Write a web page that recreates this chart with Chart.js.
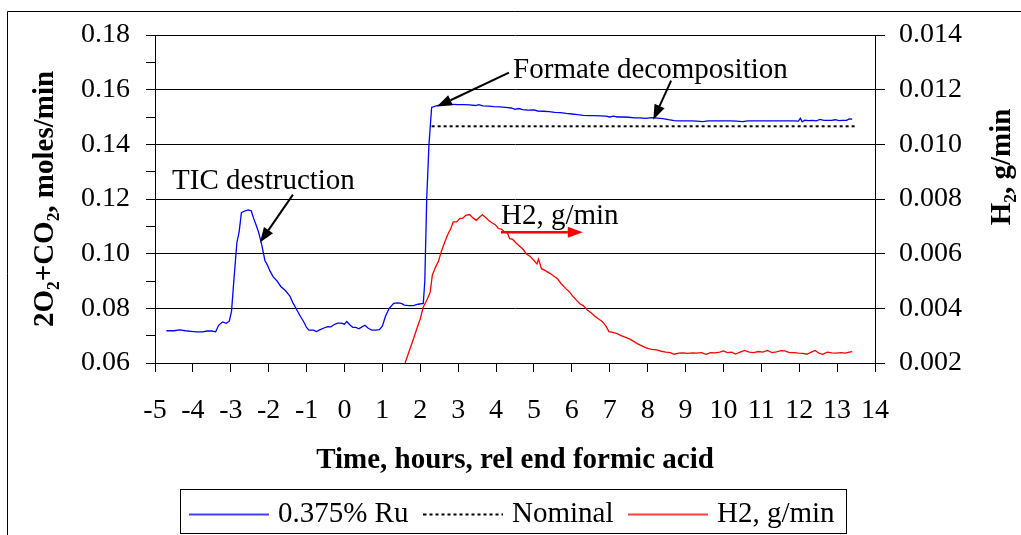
<!DOCTYPE html>
<html>
<head>
<meta charset="utf-8">
<script src="https://cdn.jsdelivr.net/npm/chart.js@4.4.0/dist/chart.umd.min.js"></script>
<style>
  html, body { margin: 0; padding: 0; background: #fff; }
  canvas { display: block; }
</style>
</head>
<body>
<canvas id="chart" width="1021" height="535"></canvas>
<script>
// time axis, hours relative to end of formic acid feed
const hourRange = { min: -5, max: 14, step: 1 };
const flowRange = { min: 0.06, max: 0.18, step: 0.01 };   // left axis, moles/min
const h2Range = { min: 0.002, max: 0.014, step: 0.002 };  // right axis, g/min

const seriesNames = ['0.375% Ru', 'Nominal', 'H2, g/min'];

// 2O2+CO2 off-gas, 0.375% Ru run
const ruHours = [
  -4.70, -4.50, -4.35, -4.20, -4.05, -3.90, -3.75, -3.62, -3.50, -3.40,
  -3.32, -3.22, -3.12, -3.04, -2.98, -2.92, -2.84, -2.78, -2.72, -2.62,
  -2.54, -2.46, -2.40, -2.32, -2.26, -2.18, -2.10, -2.04, -1.96, -1.88,
  -1.78, -1.68, -1.56, -1.44, -1.36, -1.26, -1.16, -1.08, -1.00, -0.94,
  -0.82, -0.74, -0.64, -0.54, -0.44, -0.36, -0.28, -0.18, -0.08, 0.00,
  0.06, 0.14, 0.22, 0.30, 0.38, 0.46, 0.54, 0.62, 0.72, 0.82,
  0.92, 1.00, 1.08, 1.18, 1.30, 1.40, 1.50, 1.58, 1.70, 1.82,
  1.94, 2.08, 2.12, 2.17, 2.23, 2.30, 2.40, 2.55, 2.70, 2.85,
  3.00, 3.15, 3.30, 3.45, 3.55, 3.65, 3.80, 3.95, 4.10, 4.25,
  4.40, 4.50, 4.60, 4.70, 4.85, 5.00, 5.10, 5.25, 5.40, 5.55,
  5.70, 5.85, 6.00, 6.15, 6.30, 6.45, 6.60, 6.75, 6.90, 7.00,
  7.10, 7.20, 7.35, 7.50, 7.65, 7.80, 7.95, 8.10, 8.25, 8.40,
  8.55, 8.70, 8.85, 9.00, 9.15, 9.30, 9.45, 9.60, 9.75, 9.90,
  10.05, 10.20, 10.35, 10.50, 10.65, 10.80, 10.95, 11.10, 11.25, 11.40,
  11.55, 11.70, 11.85, 11.98, 12.03, 12.08, 12.15, 12.25, 12.35, 12.45,
  12.55, 12.65, 12.75, 12.85, 12.95, 13.05, 13.15, 13.25, 13.32, 13.40
];
const ruFlow = [
  0.0718, 0.0718, 0.0721, 0.0718, 0.0716, 0.0714, 0.0714, 0.0717, 0.0717, 0.0714,
  0.0738, 0.0750, 0.0745, 0.0753, 0.0790, 0.0900, 0.1040, 0.1080, 0.1150, 0.1157,
  0.1160, 0.1157, 0.1130, 0.1100, 0.1075, 0.1030, 0.0975, 0.0960, 0.0935, 0.0915,
  0.0900, 0.0880, 0.0865, 0.0845, 0.0820, 0.0795, 0.0770, 0.0752, 0.0730, 0.0720,
  0.0720, 0.0715, 0.0722, 0.0728, 0.0733, 0.0732, 0.0740, 0.0746, 0.0746, 0.0742,
  0.0752, 0.0740, 0.0730, 0.0730, 0.0725, 0.0732, 0.0738, 0.0728, 0.0720, 0.0720,
  0.0722, 0.0735, 0.0770, 0.0800, 0.0818, 0.0820, 0.0818, 0.0812, 0.0810, 0.0810,
  0.0815, 0.0818, 0.0900, 0.1200, 0.1400, 0.1535, 0.1540, 0.1545, 0.1546, 0.1546,
  0.1545, 0.1545, 0.1544, 0.1542, 0.1545, 0.1541, 0.1540, 0.1538, 0.1537, 0.1535,
  0.1533, 0.1528, 0.1531, 0.1527, 0.1525, 0.1526, 0.1522, 0.1521, 0.1520, 0.1517,
  0.1516, 0.1513, 0.1511, 0.1509, 0.1506, 0.1505, 0.1505, 0.1504, 0.1503, 0.1500,
  0.1503, 0.1500, 0.1500, 0.1499, 0.1497, 0.1497, 0.1495, 0.1498, 0.1496, 0.1494,
  0.1490, 0.1487, 0.1486, 0.1486, 0.1486, 0.1485, 0.1483, 0.1486, 0.1486, 0.1486,
  0.1486, 0.1486, 0.1485, 0.1483, 0.1486, 0.1486, 0.1486, 0.1486, 0.1486, 0.1486,
  0.1486, 0.1486, 0.1486, 0.1485, 0.1495, 0.1482, 0.1488, 0.1487, 0.1488, 0.1486,
  0.1491, 0.1488, 0.1488, 0.1488, 0.1490, 0.1487, 0.1488, 0.1488, 0.1493, 0.1492
];

// expected rate for full formate decomposition
const nominalHours = [2.30, 13.50];
const nominalFlow = [0.1466, 0.1466];

// hydrogen generation, right axis
const h2Hours = [
  1.60, 1.70, 1.82, 1.92, 2.00, 2.08, 2.18, 2.26, 2.32, 2.40,
  2.48, 2.56, 2.64, 2.72, 2.80, 2.87, 2.96, 3.04, 3.12, 3.20,
  3.30, 3.40, 3.48, 3.56, 3.64, 3.72, 3.80, 3.90, 3.98, 4.06,
  4.14, 4.22, 4.30, 4.36, 4.44, 4.52, 4.60, 4.70, 4.80, 4.90,
  5.00, 5.08, 5.12, 5.20, 5.30, 5.42, 5.52, 5.62, 5.72, 5.84,
  5.94, 6.02, 6.12, 6.22, 6.30, 6.40, 6.50, 6.60, 6.70, 6.80,
  6.90, 6.98, 7.08, 7.18, 7.30, 7.42, 7.52, 7.62, 7.74, 7.86,
  7.98, 8.10, 8.24, 8.36, 8.48, 8.60, 8.70, 8.82, 8.94, 9.06,
  9.18, 9.30, 9.42, 9.54, 9.66, 9.78, 9.90, 10.00, 10.10, 10.22,
  10.32, 10.44, 10.56, 10.68, 10.80, 10.92, 11.04, 11.16, 11.28, 11.40,
  11.52, 11.62, 11.74, 11.86, 11.98, 12.10, 12.20, 12.32, 12.42, 12.52,
  12.62, 12.74, 12.86, 12.98, 13.10, 13.22, 13.32, 13.40
];
const h2Rate = [
  0.00200, 0.00240, 0.00288, 0.00330, 0.00362, 0.00405, 0.00432, 0.00458, 0.00522, 0.00550,
  0.00572, 0.00610, 0.00640, 0.00668, 0.00690, 0.00716, 0.00716, 0.00728, 0.00730, 0.00740,
  0.00743, 0.00730, 0.00722, 0.00733, 0.00742, 0.00733, 0.00722, 0.00712, 0.00706, 0.00692,
  0.00690, 0.00680, 0.00676, 0.00655, 0.00652, 0.00640, 0.00630, 0.00618, 0.00600, 0.00590,
  0.00575, 0.00562, 0.00580, 0.00545, 0.00538, 0.00528, 0.00518, 0.00508, 0.00490, 0.00472,
  0.00460, 0.00445, 0.00430, 0.00416, 0.00410, 0.00395, 0.00385, 0.00372, 0.00362, 0.00352,
  0.00335, 0.00315, 0.00312, 0.00308, 0.00300, 0.00294, 0.00288, 0.00280, 0.00270, 0.00262,
  0.00254, 0.00250, 0.00248, 0.00243, 0.00240, 0.00238, 0.00232, 0.00236, 0.00237, 0.00235,
  0.00237, 0.00236, 0.00238, 0.00232, 0.00238, 0.00237, 0.00240, 0.00244, 0.00238, 0.00240,
  0.00233, 0.00240, 0.00246, 0.00240, 0.00238, 0.00242, 0.00240, 0.00246, 0.00238, 0.00241,
  0.00245, 0.00244, 0.00238, 0.00238, 0.00236, 0.00235, 0.00232, 0.00240, 0.00246, 0.00236,
  0.00232, 0.00240, 0.00237, 0.00236, 0.00238, 0.00236, 0.00240, 0.00242
];

// callouts, placed in (hours, moles/min)
const notes = [
  { text: 'TIC destruction', x: -4.55, y: 0.1265 },
  { text: 'Formate decomposition', x: 4.45, y: 0.1670 },
  { text: 'H2, g/min', x: 4.13, y: 0.1136 }
];
const arrows = [
  { from: [-1.36, 0.1216], to: [-2.23, 0.1041], color: '#000', width: 2 },
  { from: [4.34, 0.1662], to: [2.44, 0.1538], color: '#000', width: 2 },
  { from: [8.62, 0.1633], to: [8.15, 0.1490], color: '#000', width: 2 },
  { from: [4.13, 0.1078], to: [6.29, 0.1078], color: '#f00', width: 2.5 }
];

const serif = '"Liberation Serif", "Times New Roman", serif';
Chart.defaults.font.family = serif;
Chart.defaults.color = '#000';

const pts = (xs, ys) => xs.map((x, i) => ({ x: x, y: ys[i] }));
const isMajor = v => Math.round(v * 100) % 2 === 0;

// legend samples: an 80px stroke so the dotted one keeps its dashes
function lineSample(color, width, dash) {
  const c = document.createElement('canvas');
  c.width = 80;
  c.height = 6;
  const g = c.getContext('2d');
  g.strokeStyle = color;
  g.lineWidth = width;
  g.setLineDash(dash);
  g.beginPath();
  g.moveTo(0, 3);
  g.lineTo(80, 3);
  g.stroke();
  return c;
}

function drawArrow(ctx, x1, y1, x2, y2, color, width) {
  const ang = Math.atan2(y2 - y1, x2 - x1);
  const head = 15, half = 5.5;
  const bx = x2 - head * Math.cos(ang), by = y2 - head * Math.sin(ang);
  ctx.strokeStyle = color;
  ctx.fillStyle = color;
  ctx.lineWidth = width;
  ctx.beginPath();
  ctx.moveTo(x1, y1);
  ctx.lineTo(bx, by);
  ctx.stroke();
  ctx.beginPath();
  ctx.moveTo(x2, y2);
  ctx.lineTo(bx + half * Math.sin(ang), by - half * Math.cos(ang));
  ctx.lineTo(bx - half * Math.sin(ang), by + half * Math.cos(ang));
  ctx.closePath();
  ctx.fill();
}

const decorations = {
  id: 'decorations',
  afterDraw(chart) {
    const { ctx, scales: { x, y } } = chart;
    ctx.save();

    // page frame (open to the right and bottom)
    ctx.strokeStyle = '#000';
    ctx.lineWidth = 1;
    ctx.beginPath();
    ctx.moveTo(7.5, chart.height);
    ctx.lineTo(7.5, 11.5);
    ctx.lineTo(chart.width, 11.5);
    ctx.stroke();

    // box around the legend
    const boxes = chart.legend.legendHitBoxes;
    const first = boxes[0], last = boxes[boxes.length - 1];
    const cy = first.top + first.height / 2;
    const left = Math.round(first.left - 15) + 0.5;
    const right = Math.round(last.left + last.width + 11) + 0.5;
    ctx.strokeRect(left, Math.round(cy - 26) + 0.5, right - left, 44);

    // callout texts and arrows
    ctx.fillStyle = '#000';
    ctx.font = '29px ' + serif;
    ctx.textAlign = 'left';
    ctx.textBaseline = 'middle';
    notes.forEach(n => ctx.fillText(n.text, x.getPixelForValue(n.x), y.getPixelForValue(n.y)));
    arrows.forEach(a => drawArrow(ctx,
      x.getPixelForValue(a.from[0]), y.getPixelForValue(a.from[1]),
      x.getPixelForValue(a.to[0]), y.getPixelForValue(a.to[1]),
      a.color, a.width));

    // right axis title reads bottom-to-top
    ctx.fillStyle = '#000';
    ctx.font = 'bold 29px ' + serif;
    ctx.textAlign = 'center';
    ctx.translate(1003, 167);
    ctx.rotate(-Math.PI / 2);
    ctx.fillText('H\u2082, g/min', 0, 0);
    ctx.restore();
  }
};

new Chart(document.getElementById('chart'), {
  type: 'line',
  data: {
    datasets: [
      {
        label: seriesNames[0],
        data: pts(ruHours, ruFlow),
        yAxisID: 'y',
        borderColor: '#0000ff',
        backgroundColor: '#0000ff',
        borderWidth: 1.3,
        pointStyle: lineSample('#0000ff', 1.3, [])
      },
      {
        label: seriesNames[1],
        data: pts(nominalHours, nominalFlow),
        yAxisID: 'y',
        borderColor: '#000',
        backgroundColor: '#000',
        borderWidth: 2,
        borderDash: [3, 3],
        pointStyle: lineSample('#000', 2, [3, 3])
      },
      {
        label: seriesNames[2],
        data: pts(h2Hours, h2Rate),
        yAxisID: 'y2',
        borderColor: '#ff0000',
        backgroundColor: '#ff0000',
        borderWidth: 1.3,
        pointStyle: lineSample('#ff0000', 1.3, [])
      }
    ]
  },
  options: {
    responsive: false,
    animation: false,
    layout: { padding: { top: 35, left: 0, right: 0, bottom: -4 } },
    elements: { point: { radius: 0 }, line: { tension: 0 } },
    plugins: {
      tooltip: { enabled: false },
      legend: {
        position: 'bottom',
        fullSize: false,
        labels: {
          usePointStyle: true,
          pointStyleWidth: 68,
          padding: 21,
          color: '#000',
          font: { size: 29, family: serif }
        }
      }
    },
    scales: {
      x: {
        type: 'linear',
        min: hourRange.min,
        max: hourRange.max,
        afterFit(s) { s.height = 116; },
        ticks: {
          stepSize: hourRange.step,
          autoSkip: false,
          maxRotation: 0,
          padding: 22,
          color: '#000',
          font: { size: 28 },
          callback: v => String(v)
        },
        grid: { drawOnChartArea: false, tickLength: 9, color: '#000', tickColor: '#000' },
        border: { color: '#000', width: 1 },
        title: {
          display: true,
          text: 'Time, hours, rel end formic acid',
          color: '#000',
          font: { size: 29, weight: 'bold' },
          padding: { top: 0, bottom: 1 }
        }
      },
      y: {
        position: 'left',
        min: flowRange.min,
        max: flowRange.max,
        afterFit(s) { s.width = 155; },
        ticks: {
          stepSize: flowRange.step,
          autoSkip: false,
          padding: 16,
          color: '#000',
          font: { size: 28 },
          callback: v => isMajor(v) ? v.toFixed(2) : ''
        },
        grid: {
          color: c => isMajor(c.tick.value) ? '#000' : 'rgba(0,0,0,0)',
          tickColor: '#000',
          tickLength: 9
        },
        border: { color: '#000', width: 1 },
        title: {
          display: true,
          text: '2O\u2082+CO\u2082, moles/min',
          color: '#000',
          font: { size: 29, weight: 'bold' },
          padding: { top: 28, bottom: 0 }
        }
      },
      y2: {
        position: 'right',
        min: h2Range.min,
        max: h2Range.max,
        afterFit(s) { s.width = 146; },
        ticks: {
          stepSize: h2Range.step,
          autoSkip: false,
          padding: 14,
          color: '#000',
          font: { size: 28 },
          callback: v => v.toFixed(3)
        },
        grid: { drawOnChartArea: false, tickLength: 10, color: '#000', tickColor: '#000' },
        border: { color: '#000', width: 1 }
      }
    }
  },
  plugins: [decorations]
});
</script>
</body>
</html>
